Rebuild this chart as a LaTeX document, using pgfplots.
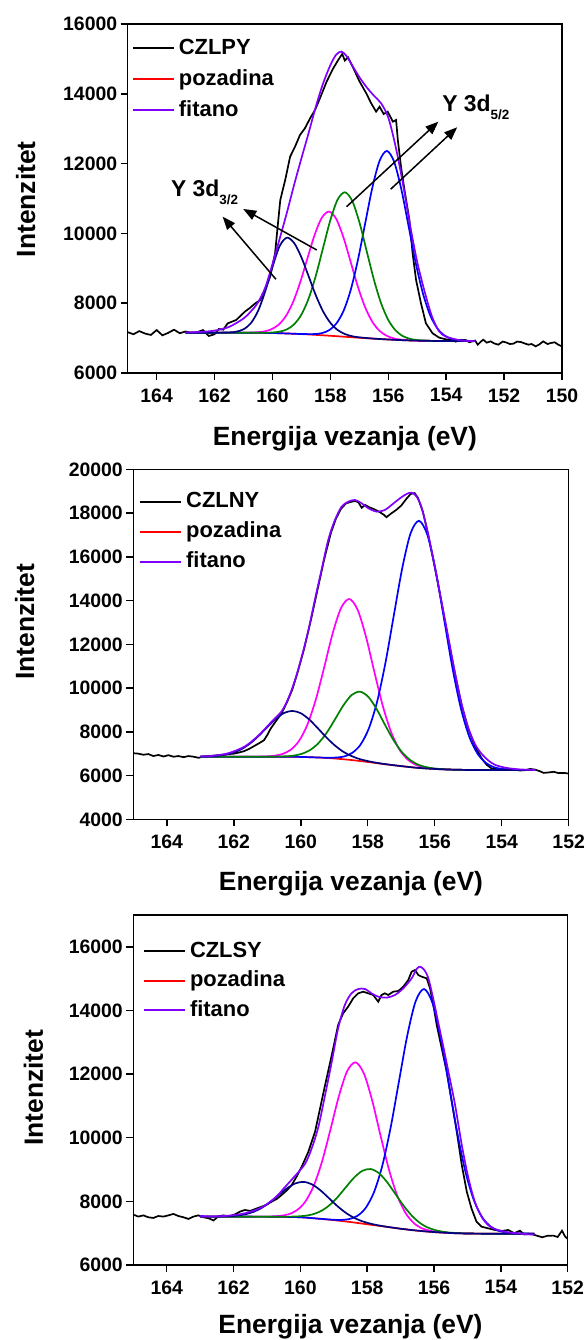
\documentclass[border=0pt]{standalone}
\usepackage{fontspec}
\setmainfont{Liberation Sans}
\usepackage{pgfplots}
\pgfplotsset{compat=1.18}
\usetikzlibrary{arrows.meta}
\definecolor{cfit}{RGB}{128,0,255}
\definecolor{cnavy}{RGB}{0,0,128}
\definecolor{cmag}{RGB}{255,0,255}
\definecolor{cgreen}{RGB}{0,128,0}
\definecolor{cblue}{RGB}{0,0,255}
\definecolor{cred}{RGB}{255,0,0}
\tikzset{arr/.style={line width=1.5bp, -{Triangle[length=13bp,width=10bp]}},
  cl/.style={line width=1.7bp}}
\pgfplotsset{
  xps/.style={
    scale only axis, x dir=reverse,
    scaled y ticks=false, scaled x ticks=false,
    axis line style={line width=1.5bp},
    major tick style={line width=1.5bp, black},
    major tick length=7bp,
    tick align=outside,
    xtick pos=left, ytick pos=left,
    tick label style={font=\fontsize{19.5}{22}\selectfont\bfseries},
    xticklabel style={yshift=-5bp},
    /pgf/number format/assume math mode=true,
    /pgf/number format/1000 sep={},
    xlabel={Energija vezanja (eV)},
    ylabel={Intenzitet},
    label style={font=\fontsize{26.5}{30}\selectfont\bfseries},
    legend cell align=left,
    legend image code/.code={\draw[#1,line width=2bp] (0bp,0bp) -- (41bp,0bp);},
    legend style={draw=none, fill=none, anchor=north west, inner sep=0pt, row sep=8bp, column sep=3bp,
      font=\fontsize{22}{24}\selectfont\bfseries, nodes={inner sep=1bp, text depth=4bp, text height=16bp}},
  },
}
\begin{document}
\begin{tikzpicture}
\useasboundingbox (0,0) rectangle (588bp,1340bp);
% ================= Panel 1 =================
\begin{axis}[xps, at={(127.7bp,967bp)}, anchor=south west, width=434.3bp, height=349bp,
  xmin=150, xmax=165, ymin=6000, ymax=16000,
  xtick={150,152,...,164}, ytick={6000,8000,...,16000},
  xlabel style={at={(axis description cs:0.5,-0.209)}, anchor=base},
  ylabel style={at={(axis description cs:-0.2349,0.498)}, anchor=center},
  legend style={at={(axis description cs:0.0092,0.962)}, row sep=9bp}]
\addlegendimage{black}\addlegendentry{CZLPY}
\addlegendimage{cred}\addlegendentry{pozadina}
\addlegendimage{cfit}\addlegendentry{fitano}
% data
\addplot[cl, black, forget plot] coordinates {
(165.0,7170)(164.8,7110)(164.6,7200)(164.4,7130)(164.2,7090)(164.0,7230)(163.8,7080)(163.6,7150)(163.4,7240)(163.2,7140)
(163.0,7190)(162.8,7150)(162.6,7170)(162.4,7230)(162.2,7060)(162.0,7110)(161.85,7260)(161.7,7240)(161.55,7420)(161.4,7470)
(161.25,7520)(161.1,7640)(160.95,7760)(160.8,7850)(160.6,7990)(160.42,8092)(160.25,8400)(160.08,8760)(159.91,9429)(159.82,10200)
(159.73,10957)(159.56,11530)(159.39,12199)(159.22,12485)(159.05,12819)(158.88,13010)(158.7,13297)(158.53,13536)(158.36,13870)(158.13,14348)
(157.9,14730)(157.73,14968)(157.59,15140)(157.5,14950)(157.39,15045)(157.22,14758)(156.99,14348)(156.76,14013)(156.59,13727)(156.42,13488)
(156.3,13631)(156.16,13421)(156.02,13488)(155.84,13201)(155.73,13249)(155.67,12676)(155.56,11912)(155.44,11243)(155.27,10384)(155.16,9429)
(155.04,8665)(154.87,7996)(154.7,7423)(154.47,7137)(154.24,7012)(154.01,6965)(153.8,6940)(153.67,6898)(153.5,6950)(153.33,6946)
(153.2,6880)(153.1,6906)(153.0,6930)(152.91,6811)(152.8,6900)(152.72,6954)(152.6,6870)(152.46,6906)(152.35,6850)(152.2,6811)
(152.05,6900)(151.94,6878)(151.8,6830)(151.68,6840)(151.55,6900)(151.42,6887)(151.3,6850)(151.16,6811)(151.05,6830)(150.91,6763)
(150.78,6820)(150.65,6906)(150.5,6830)(150.39,6859)(150.25,6880)(150.13,6811)(150.0,6763)};
% background
\addplot[cl, cred, smooth, forget plot] coordinates {
(163,7155)(161,7155)(160.5,7152)(160,7145)(159.5,7132)(159,7115)(158.5,7092)(158,7066)(157.5,7038)(157,7010)
(156.5,6983)(156,6960)(155.5,6940)(155,6927)(154.5,6920)(154,6915)(153,6915)};
% magenta
\addplot[cl, cmag, smooth, forget plot] coordinates {
(163,7155)(161,7155)(160.55,7166)(160.30,7188)(160.05,7248)(159.80,7374)(159.55,7614)(159.30,8010)(159.05,8578)(158.80,9264)
(158.55,9942)(158.30,10444)(158.05,10624)(157.80,10418)(157.55,9889)(157.30,9185)(157.05,8474)(156.80,7884)(156.55,7466)(156.30,7206)
(156.05,7064)(155.80,6989)(155.55,6956)(155.0,6927)(154.5,6920)(154,6915)(153,6915)};
% blue
\addplot[cl, cblue, smooth, forget plot] coordinates {
(163,7155)(161,7155)(160,7145)(159.5,7132)(159,7117)(158.55,7115)(158.30,7141)(158.05,7223)(157.80,7410)(157.55,7770)
(157.30,8372)(157.05,9232)(156.80,10277)(156.55,11311)(156.30,12080)(156.05,12362)(155.80,12058)(155.55,11267)(155.30,10213)(155.05,9147)
(154.80,8270)(154.55,7650)(154.30,7273)(154.05,7070)(153.80,6975)(153.55,6936)(153.0,6915)};
% green
\addplot[cl, cgreen, smooth, forget plot] coordinates {
(163,7155)(161,7155)(160.5,7153)(160.25,7154)(160.0,7161)(159.75,7185)(159.5,7250)(159.25,7396)(159.0,7674)(158.75,8135)
(158.5,8794)(158.25,9592)(158.0,10382)(157.75,10968)(157.5,11178)(157.25,10940)(157.0,10326)(156.75,9509)(156.5,8685)(156.25,8002)
(156.0,7519)(155.75,7222)(155.5,7058)(155.25,6979)(155.0,6943)(154.5,6920)(154,6915)(153,6915)};
% navy
\addplot[cl, cnavy, smooth, forget plot] coordinates {
(163,7155)(162,7155)(161.5,7162)(161.25,7184)(161.0,7252)(160.75,7423)(160.5,7773)(160.25,8339)(160.0,9038)(159.75,9640)
(159.5,9877)(159.25,9721)(159.0,9314)(158.75,8770)(158.5,8220)(158.25,7763)(158.0,7437)(157.75,7232)(157.5,7117)(157.25,7054)
(157.0,7021)(156.5,6985)(156,6960)(155.5,6940)(155,6927)(154.5,6920)(154,6915)(153,6915)};
% fit
\addplot[cl, cfit, smooth, forget plot] coordinates {
(163.0,7160)(162.5,7175)(162.0,7215)(161.5,7320)(161.0,7560)(160.75,7760)(160.5,8020)(160.25,8450)(160.0,9120)(159.75,9850)
(159.5,10600)(159.25,11400)(159.0,12150)(158.75,12880)(158.5,13640)(158.25,14300)(158.0,14820)(157.8,15120)(157.62,15210)(157.45,15090)
(157.25,14820)(157.0,14480)(156.75,14190)(156.5,13950)(156.25,13730)(156.0,13320)(155.75,12500)(155.5,11450)(155.25,10250)(155.0,9180)
(154.75,8350)(154.5,7640)(154.25,7200)(154.0,7040)(153.5,6935)(153.0,6910)};
% annotations
\node[anchor=base west, inner sep=0pt, font=\fontsize{23}{26}\selectfont\bfseries] at (axis cs:163.51,11052) {Y 3d\raisebox{-0.33em}{\fontsize{13.5}{15}\selectfont 3/2}};
\node[anchor=base west, inner sep=0pt, font=\fontsize{23}{26}\selectfont\bfseries] at (axis cs:154.14,13487) {Y 3d\raisebox{-0.33em}{\fontsize{13.5}{15}\selectfont 5/2}};
\draw[arr] (axis cs:159.88,8685) -- (axis cs:161.72,10479);
\draw[arr] (axis cs:158.47,9524) -- (axis cs:161.01,10699);
\draw[arr] (axis cs:157.44,10765) -- (axis cs:154.27,13201);
\draw[arr] (axis cs:155.92,11264) -- (axis cs:153.62,13040);
\end{axis}
% ================= Panel 2 =================
\begin{axis}[xps, at={(133.3bp,520.5bp)}, anchor=south west, width=435.4bp, height=350bp,
  xmin=152, xmax=165, ymin=4000, ymax=20000,
  xtick={152,154,...,164}, ytick={4000,6000,...,20000},
  xlabel style={at={(axis description cs:0.5,-0.2034)}, anchor=base},
  ylabel style={at={(axis description cs:-0.2492,0.565)}, anchor=center},
  legend style={at={(axis description cs:0.0131,0.9397)}}]
\addlegendimage{black}\addlegendentry{CZLNY}
\addlegendimage{cred}\addlegendentry{pozadina}
\addlegendimage{cfit}\addlegendentry{fitano}
\addplot[cl, black, forget plot] coordinates {
(165.0,7030)(164.85,7010)(164.7,6960)(164.55,6990)(164.4,6900)(164.25,6950)(164.1,6880)(163.95,6940)(163.8,6870)(163.65,6900)
(163.5,6850)(163.35,6900)(163.2,6870)(163.05,6820)(162.9,6880)(162.75,6900)(162.6,6920)(162.45,6940)(162.3,6960)(162.15,6990)
(162.0,7010)(161.85,7060)(161.7,7120)(161.55,7220)(161.4,7350)(161.25,7480)(161.1,7620)(161.0,7860)(160.9,8150)(160.75,8480)
(160.57,8853)(160.4,9400)(160.25,9950)(160.1,10700)(159.9,11800)(159.7,13100)(159.5,14500)(159.3,15900)(159.1,17100)(158.95,17750)
(158.8,18200)(158.65,18450)(158.5,18520)(158.38,18560)(158.28,18500)(158.18,18250)(158.08,18380)(157.95,18270)(157.8,18180)(157.65,18060)
(157.52,17930)(157.44,17820)(157.3,17990)(157.15,18150)(157.0,18350)(156.85,18650)(156.72,18880)(156.6,18920)(156.5,18700)(156.35,18050)
(156.2,17050)(156.0,15550)(155.8,13950)(155.6,12250)(155.4,10700)(155.2,9250)(155.0,8150)(154.8,7350)(154.6,6800)(154.45,6500)
(154.3,6330)(154.15,6300)(154.0,6290)(153.8,6300)(153.6,6270)(153.45,6240)(153.3,6255)(153.15,6310)(153.0,6280)(152.85,6200)
(152.75,6130)(152.6,6150)(152.45,6180)(152.3,6120)(152.15,6130)(152.0,6100)};
\addplot[cl, cred, smooth, forget plot] coordinates {
(163,6870)(160.5,6870)(160,6860)(159.5,6835)(159,6790)(158.5,6720)(158,6630)(157.5,6530)(157,6440)(156.5,6360)
(156,6310)(155.5,6280)(155,6265)(154.5,6260)(153,6260)};
\addplot[cl, cmag, smooth, forget plot] coordinates {
(163,6870)(161.5,6870)(161.05,6883)(160.80,6912)(160.55,6994)(160.30,7187)(160.05,7596)(159.80,8341)(159.55,9485)(159.30,10957)
(159.05,12494)(158.80,13659)(158.55,14080)(158.30,13581)(158.05,12338)(157.80,10730)(157.55,9187)(157.30,7987)(157.05,7189)(156.80,6731)
(156.55,6492)(156.30,6385)(156.05,6328)(155.5,6280)(155,6265)(154.5,6260)(153,6260)};
\addplot[cl, cblue, smooth, forget plot] coordinates {
(163,6870)(160.5,6870)(160,6860)(159.5,6835)(159.22,6824)(158.97,6830)(158.72,6875)(158.47,7038)(158.22,7412)(157.97,8150)
(157.72,9388)(157.47,11173)(157.22,13342)(156.97,15488)(156.72,17086)(156.47,17653)(156.22,17016)(155.97,15357)(155.72,13150)(155.47,10922)
(155.22,9085)(154.97,7790)(154.72,7004)(154.47,6583)(154.22,6385)(153.97,6304)(153.72,6274)(153.0,6260)};
\addplot[cl, cgreen, smooth, forget plot] coordinates {
(163,6870)(161,6870)(160.73,6875)(160.48,6887)(160.23,6916)(159.98,6998)(159.73,7165)(159.48,7477)(159.23,7954)(158.98,8574)
(158.73,9210)(158.48,9692)(158.23,9843)(157.98,9601)(157.73,9034)(157.48,8313)(157.23,7627)(156.98,7081)(156.73,6716)(156.48,6498)
(156.23,6387)(155.98,6326)(155.73,6298)(155.5,6280)(155,6265)(154.5,6260)(153,6260)};
\addplot[cl, cnavy, smooth, forget plot] coordinates {
(163.0,6876)(162.75,6886)(162.5,6910)(162.25,6962)(162.0,7062)(161.75,7231)(161.5,7490)(161.25,7832)(161.0,8222)(160.75,8598)
(160.5,8869)(160.25,8963)(160.0,8859)(159.75,8575)(159.5,8187)(159.25,7775)(159.0,7410)(158.75,7116)(158.5,6912)(158.25,6767)
(158.0,6670)(157.75,6596)(157.5,6536)(157.0,6440)(156.5,6360)(156.0,6310)(155.5,6280)(155.0,6265)(154.5,6260)(153.0,6260)};
\addplot[cl, cfit, smooth, forget plot] coordinates {
(163.0,6880)(162.66,6905)(162.16,7030)(161.67,7340)(161.27,7830)(160.87,8470)(160.57,8950)(160.37,9540)(160.17,10377)(159.97,11444)
(159.77,12663)(159.58,14034)(159.38,15406)(159.18,16777)(158.98,17691)(158.78,18301)(158.58,18530)(158.38,18606)(158.18,18453)(157.98,18225)
(157.73,18072)(157.49,18149)(157.29,18377)(157.04,18682)(156.84,18880)(156.69,18941)(156.54,18760)(156.39,18250)(156.19,17000)(155.99,15500)
(155.79,13900)(155.59,12300)(155.40,10750)(155.20,9300)(155.00,8200)(154.80,7450)(154.60,7000)(154.40,6700)(154.20,6500)(153.90,6370)
(153.50,6295)(153.00,6263)};
\end{axis}
% ================= Panel 3 =================
\begin{axis}[xps, at={(133.3bp,75bp)}, anchor=south west, width=434.4bp, height=350bp,
  xmin=152, xmax=165, ymin=6000, ymax=17000,
  xtick={152,154,...,164}, ytick={6000,8000,...,16000},
  xlabel style={at={(axis description cs:0.5,-0.197)}, anchor=base},
  ylabel style={at={(axis description cs:-0.2297,0.506)}, anchor=center},
  legend style={at={(axis description cs:0.0219,0.929)}, row sep=7.5bp}]
\addlegendimage{black}\addlegendentry{CZLSY}
\addlegendimage{cred}\addlegendentry{pozadina}
\addlegendimage{cfit}\addlegendentry{fitano}
\addplot[cl, black, forget plot] coordinates {
(165.0,7584)(164.85,7521)(164.7,7560)(164.55,7500)(164.4,7479)(164.25,7540)(164.1,7521)(163.95,7560)(163.8,7605)(163.65,7540)
(163.5,7500)(163.35,7448)(163.2,7521)(163.05,7560)(162.9,7500)(162.75,7470)(162.6,7400)(162.45,7530)(162.3,7560)(162.15,7520)
(161.96,7592)(161.8,7680)(161.66,7729)(161.5,7700)(161.3,7780)(161.16,7833)(161.0,7900)(160.86,7990)(160.7,8080)(160.56,8200)
(160.4,8350)(160.26,8514)(160.1,8800)(159.96,9090)(159.76,9562)(159.56,10190)(159.41,10924)(159.26,11657)(159.06,12600)(158.87,13543)
(158.72,13909)(158.57,14119)(158.42,14381)(158.27,14538)(158.12,14590)(157.97,14538)(157.82,14486)(157.67,14276)(157.57,14486)(157.47,14538)
(157.37,14486)(157.22,14590)(157.07,14611)(156.92,14747)(156.77,14957)(156.67,15219)(156.57,15271)(156.47,15114)(156.37,15062)(156.22,15009)
(156.12,14695)(156.02,14171)(155.92,13543)(155.77,12809)(155.62,12076)(155.47,11133)(155.32,10190)(155.17,9143)(155.02,8305)(154.88,7781)
(154.73,7362)(154.58,7205)(154.38,7152)(154.18,7100)(153.98,7069)(153.78,7100)(153.6,7000)(153.43,7078)(153.3,6960)(153.1,6976)
(152.95,6930)(152.76,6871)(152.6,6920)(152.43,6923)(152.3,6880)(152.17,7078)(152.08,6900)(152.0,6818)};
\addplot[cl, cred, smooth, forget plot] coordinates {
(163,7520)(161,7520)(160.5,7515)(160,7500)(159.5,7460)(159,7410)(158.5,7350)(158,7280)(157.5,7210)(157,7140)
(156.5,7080)(156,7035)(155.5,7005)(155,6990)(154.5,6985)(153,6985)};
\addplot[cl, cmag, smooth, forget plot] coordinates {
(163,7520)(161,7520)(160.85,7528)(160.6,7545)(160.35,7596)(160.1,7724)(159.85,7996)(159.6,8491)(159.35,9259)(159.1,10258)
(158.85,11298)(158.6,12092)(158.35,12369)(158.1,12022)(157.85,11165)(157.6,10062)(157.35,9003)(157.1,8177)(156.85,7630)(156.6,7313)
(156.35,7147)(156.1,7073)(155.85,7035)(155.5,7005)(155,6990)(154.5,6985)(153,6985)};
\addplot[cl, cblue, smooth, forget plot] coordinates {
(163,7520)(161,7520)(160,7500)(159.5,7460)(159.05,7424)(158.8,7416)(158.55,7441)(158.3,7540)(158.05,7787)(157.8,8280)
(157.55,9113)(157.3,10312)(157.05,11769)(156.8,13216)(156.55,14290)(156.3,14674)(156.05,14245)(155.8,13123)(155.55,11630)(155.3,10129)
(155.05,8888)(154.8,8016)(154.55,7486)(154.3,7203)(154.05,7070)(153.8,7015)(153.55,6994)(153,6985)};
\addplot[cl, cgreen, smooth, forget plot] coordinates {
(163,7520)(160.65,7517)(160.4,7519)(160.15,7524)(159.9,7542)(159.65,7587)(159.4,7686)(159.15,7861)(158.9,8117)(158.65,8430)
(158.4,8738)(158.15,8957)(157.9,9016)(157.65,8887)(157.4,8598)(157.15,8223)(156.9,7847)(156.65,7534)(156.4,7304)(156.15,7162)
(155.9,7079)(155.65,7033)(155.4,7009)(155,6990)(154.5,6985)(153,6985)};
\addplot[cl, cnavy, smooth, forget plot] coordinates {
(163,7520)(162.4,7524)(162.15,7532)(161.9,7552)(161.65,7594)(161.4,7671)(161.15,7799)(160.9,7979)(160.65,8197)(160.4,8409)
(160.15,8565)(159.9,8612)(159.65,8532)(159.4,8347)(159.15,8105)(158.9,7858)(158.65,7647)(158.4,7487)(158.15,7375)(157.9,7298)
(157.65,7243)(157.4,7200)(157,7140)(156.5,7080)(156,7035)(155.5,7005)(155,6990)(154.5,6985)(153,6985)};
\addplot[cl, cfit, smooth, forget plot] coordinates {
(163.0,7545)(162.65,7525)(162.16,7550)(161.66,7624)(161.16,7810)(160.76,8110)(160.46,8450)(160.16,8800)(159.86,9180)(159.66,9667)
(159.46,10348)(159.26,11343)(159.06,12390)(158.87,13438)(158.67,14171)(158.47,14538)(158.27,14674)(158.07,14674)(157.87,14538)(157.67,14433)
(157.42,14402)(157.17,14486)(156.92,14695)(156.67,15009)(156.52,15303)(156.42,15376)(156.29,15271)(156.17,15009)(156.02,14350)(155.87,13600)
(155.72,12850)(155.57,12076)(155.37,11029)(155.17,9772)(154.97,8724)(154.78,7990)(154.58,7519)(154.38,7257)(154.18,7131)(153.78,7027)
(153.18,6964)(153.0,6960)};
\end{axis}
\end{tikzpicture}
\end{document}
